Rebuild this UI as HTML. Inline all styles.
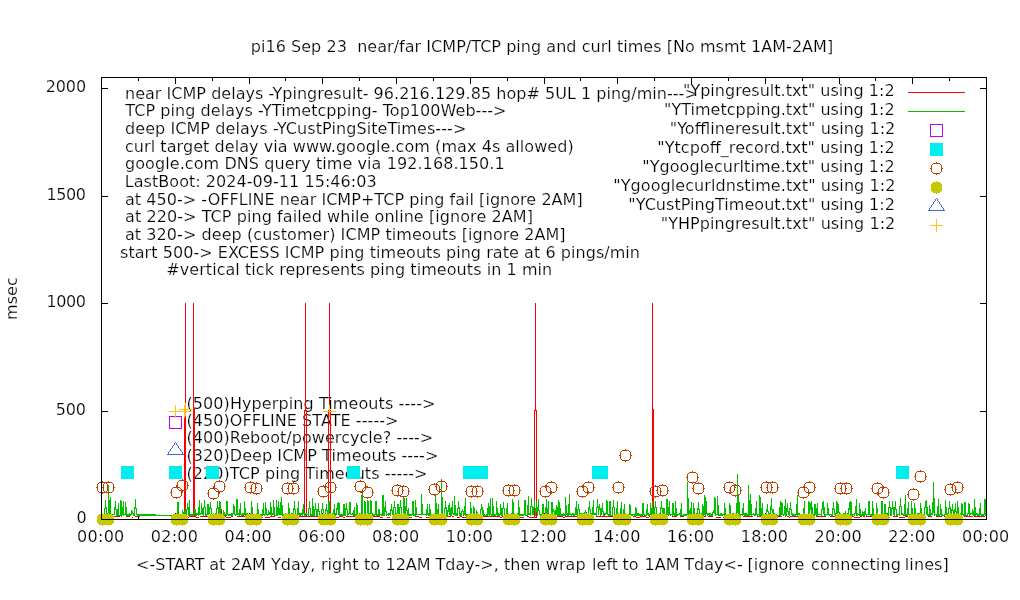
<!DOCTYPE html>
<html lang="en"><head><meta charset="utf-8"><title>pi16 Sep 23 near/far ICMP/TCP ping and curl times</title>
<style>html,body{margin:0;padding:0;background:#fff;overflow:hidden}svg{display:block;will-change:transform}text{font-family:"DejaVu Sans","Liberation Sans",sans-serif;font-size:16px;fill:#000;stroke:#fff;stroke-width:.2px}</style></head><body>
<svg width="1020" height="600" viewBox="0 0 1020 600">
<rect width="1020" height="600" fill="#fff"/>
<text x="250.8" y="52" textLength="582.4" lengthAdjust="spacing" xml:space="preserve">pi16 Sep 23  near/far ICMP/TCP ping and curl times [No msmt 1AM-2AM]</text>
<text transform="translate(17.3,320.0) rotate(-90)" textLength="42.8" lengthAdjust="spacing">msec</text>
<text x="76.5" y="523" textLength="11.1" lengthAdjust="spacing" xml:space="preserve">0</text>
<text x="55.8" y="415" textLength="30.1" lengthAdjust="spacing" xml:space="preserve">500</text>
<text x="46.5" y="307" textLength="39.4" lengthAdjust="spacing" xml:space="preserve">1000</text>
<text x="46.5" y="200" textLength="39.5" lengthAdjust="spacing" xml:space="preserve">1500</text>
<text x="45.7" y="92" textLength="40.4" lengthAdjust="spacing" xml:space="preserve">2000</text>
<text x="77.1" y="541.8" textLength="47.2" lengthAdjust="spacing" xml:space="preserve">00:00</text>
<text x="150.8" y="541.8" textLength="47.2" lengthAdjust="spacing" xml:space="preserve">02:00</text>
<text x="224.6" y="541.8" textLength="47.2" lengthAdjust="spacing" xml:space="preserve">04:00</text>
<text x="298.3" y="541.8" textLength="47.2" lengthAdjust="spacing" xml:space="preserve">06:00</text>
<text x="372.1" y="541.8" textLength="47.2" lengthAdjust="spacing" xml:space="preserve">08:00</text>
<text x="445.8" y="541.8" textLength="47.2" lengthAdjust="spacing" xml:space="preserve">10:00</text>
<text x="519.6" y="541.8" textLength="47.2" lengthAdjust="spacing" xml:space="preserve">12:00</text>
<text x="593.3" y="541.8" textLength="47.2" lengthAdjust="spacing" xml:space="preserve">14:00</text>
<text x="667.1" y="541.8" textLength="47.2" lengthAdjust="spacing" xml:space="preserve">16:00</text>
<text x="740.8" y="541.8" textLength="47.2" lengthAdjust="spacing" xml:space="preserve">18:00</text>
<text x="814.6" y="541.8" textLength="47.2" lengthAdjust="spacing" xml:space="preserve">20:00</text>
<text x="888.3" y="541.8" textLength="47.2" lengthAdjust="spacing" xml:space="preserve">22:00</text>
<text x="962.1" y="541.8" textLength="47.2" lengthAdjust="spacing" xml:space="preserve">00:00</text>
<text x="125.0" y="98.5" textLength="572.8" lengthAdjust="spacing" xml:space="preserve">near ICMP delays -Ypingresult- 96.216.129.85 hop# 5UL 1 ping/min---&gt;</text>
<text x="125.3" y="116" textLength="381.2" lengthAdjust="spacing" xml:space="preserve">TCP ping delays -YTimetcpping- Top100Web---&gt;</text>
<text x="125.0" y="133.5" textLength="341.3" lengthAdjust="spacing" xml:space="preserve">deep ICMP delays -YCustPingSiteTimes---&gt;</text>
<text x="125.0" y="151.7" textLength="448.7" lengthAdjust="spacing" xml:space="preserve">curl target delay via www.google.com (max 4s allowed)</text>
<text x="125.0" y="169.3" textLength="379.7" lengthAdjust="spacing" xml:space="preserve">google.com DNS query time via 192.168.150.1</text>
<text x="124.8" y="187" textLength="251.8" lengthAdjust="spacing" xml:space="preserve">LastBoot: 2024-09-11 15:46:03</text>
<text x="125.0" y="204.5" textLength="457.7" lengthAdjust="spacing" xml:space="preserve">at 450-&gt; -OFFLINE near ICMP+TCP ping fail [ignore 2AM]</text>
<text x="125.0" y="222" textLength="407.9" lengthAdjust="spacing" xml:space="preserve">at 220-&gt; TCP ping failed while online [ignore 2AM]</text>
<text x="125.0" y="240" textLength="440.6" lengthAdjust="spacing" xml:space="preserve">at 320-&gt; deep (customer) ICMP timeouts [ignore 2AM]</text>
<text x="120.0" y="257.5" textLength="520.0" lengthAdjust="spacing" xml:space="preserve">start 500-&gt; EXCESS ICMP ping timeouts ping rate at 6 pings/min</text>
<text x="166.3" y="275" textLength="385.9" lengthAdjust="spacing" xml:space="preserve">#vertical tick represents ping timeouts in 1 min</text>
<text x="186.4" y="408.5" textLength="249.1" lengthAdjust="spacing" xml:space="preserve">(500)Hyperping Timeouts ----&gt;</text>
<text x="186.4" y="426" textLength="212.1" lengthAdjust="spacing" xml:space="preserve">(450)OFFLINE STATE -----&gt;</text>
<text x="186.4" y="443" textLength="246.8" lengthAdjust="spacing" xml:space="preserve">(400)Reboot/powercycle? ----&gt;</text>
<text x="186.4" y="461" textLength="251.9" lengthAdjust="spacing" xml:space="preserve">(320)Deep ICMP Timeouts ----&gt;</text>
<text x="186.4" y="479" textLength="241.1" lengthAdjust="spacing" xml:space="preserve">(220)TCP ping Timeouts -----&gt;</text>
<text y="570"><tspan x="136.1">&lt;-START</tspan> <tspan x="209.2">at</tspan> <tspan x="230.9">2AM</tspan> <tspan x="271.1">Yday,</tspan> <tspan x="320.9">right</tspan> <tspan x="364.0">to</tspan> <tspan x="385.5">12AM</tspan> <tspan x="435.6">Tday-&gt;,</tspan> <tspan x="504.1">then</tspan> <tspan x="545.8" textLength="39.8" lengthAdjust="spacing">wrap</tspan> <tspan x="592.1">left</tspan> <tspan x="622.5">to</tspan> <tspan x="644.5">1AM</tspan> <tspan x="684.3">Tday&lt;-</tspan> <tspan x="747.6">[ignore</tspan> <tspan x="811.1" textLength="89.7" lengthAdjust="spacing">connecting</tspan> <tspan x="904.8" textLength="44.0" lengthAdjust="spacing">lines]</tspan></text>
<g shape-rendering="crispEdges">
<rect x="101" y="411" width="7" height="1" fill="#000"/>
<rect x="980" y="411" width="7" height="1" fill="#000"/>
<rect x="101" y="303" width="7" height="1" fill="#000"/>
<rect x="980" y="303" width="7" height="1" fill="#000"/>
<rect x="101" y="196" width="7" height="1" fill="#000"/>
<rect x="980" y="196" width="7" height="1" fill="#000"/>
<rect x="101" y="88" width="7" height="1" fill="#000"/>
<rect x="980" y="88" width="7" height="1" fill="#000"/>
<rect x="138" y="516" width="1" height="4" fill="#000"/>
<rect x="138" y="77" width="1" height="4" fill="#000"/>
<rect x="175" y="513" width="1" height="7" fill="#000"/>
<rect x="175" y="77" width="1" height="7" fill="#000"/>
<rect x="212" y="516" width="1" height="4" fill="#000"/>
<rect x="212" y="77" width="1" height="4" fill="#000"/>
<rect x="249" y="513" width="1" height="7" fill="#000"/>
<rect x="249" y="77" width="1" height="7" fill="#000"/>
<rect x="285" y="516" width="1" height="4" fill="#000"/>
<rect x="285" y="77" width="1" height="4" fill="#000"/>
<rect x="322" y="513" width="1" height="7" fill="#000"/>
<rect x="322" y="77" width="1" height="7" fill="#000"/>
<rect x="359" y="516" width="1" height="4" fill="#000"/>
<rect x="359" y="77" width="1" height="4" fill="#000"/>
<rect x="396" y="513" width="1" height="7" fill="#000"/>
<rect x="396" y="77" width="1" height="7" fill="#000"/>
<rect x="433" y="516" width="1" height="4" fill="#000"/>
<rect x="433" y="77" width="1" height="4" fill="#000"/>
<rect x="470" y="513" width="1" height="7" fill="#000"/>
<rect x="470" y="77" width="1" height="7" fill="#000"/>
<rect x="507" y="516" width="1" height="4" fill="#000"/>
<rect x="507" y="77" width="1" height="4" fill="#000"/>
<rect x="544" y="513" width="1" height="7" fill="#000"/>
<rect x="544" y="77" width="1" height="7" fill="#000"/>
<rect x="580" y="516" width="1" height="4" fill="#000"/>
<rect x="580" y="77" width="1" height="4" fill="#000"/>
<rect x="617" y="513" width="1" height="7" fill="#000"/>
<rect x="617" y="77" width="1" height="7" fill="#000"/>
<rect x="654" y="516" width="1" height="4" fill="#000"/>
<rect x="654" y="77" width="1" height="4" fill="#000"/>
<rect x="691" y="513" width="1" height="7" fill="#000"/>
<rect x="691" y="77" width="1" height="7" fill="#000"/>
<rect x="728" y="516" width="1" height="4" fill="#000"/>
<rect x="728" y="77" width="1" height="4" fill="#000"/>
<rect x="765" y="513" width="1" height="7" fill="#000"/>
<rect x="765" y="77" width="1" height="7" fill="#000"/>
<rect x="802" y="516" width="1" height="4" fill="#000"/>
<rect x="802" y="77" width="1" height="4" fill="#000"/>
<rect x="839" y="513" width="1" height="7" fill="#000"/>
<rect x="839" y="77" width="1" height="7" fill="#000"/>
<rect x="875" y="516" width="1" height="4" fill="#000"/>
<rect x="875" y="77" width="1" height="4" fill="#000"/>
<rect x="912" y="513" width="1" height="7" fill="#000"/>
<rect x="912" y="77" width="1" height="7" fill="#000"/>
<rect x="949" y="516" width="1" height="4" fill="#000"/>
<rect x="949" y="77" width="1" height="4" fill="#000"/>
<rect x="103" y="517" width="6" height="1" fill="#FF0000"/>
<rect x="109" y="516" width="6" height="1" fill="#FF0000"/>
<rect x="115" y="516" width="3" height="1" fill="#FF0000"/>
<rect x="118" y="516" width="2" height="1" fill="#FF0000"/>
<rect x="121" y="516" width="1" height="1" fill="#FF0000"/>
<rect x="126" y="516" width="2" height="1" fill="#FF0000"/>
<rect x="128" y="516" width="2" height="1" fill="#FF0000"/>
<rect x="132" y="517" width="1" height="1" fill="#FF0000"/>
<rect x="135" y="516" width="3" height="1" fill="#FF0000"/>
<rect x="138" y="516" width="2" height="1" fill="#FF0000"/>
<rect x="175" y="516" width="3" height="1" fill="#FF0000"/>
<rect x="181" y="516" width="1" height="1" fill="#FF0000"/>
<rect x="182" y="516" width="5" height="1" fill="#FF0000"/>
<rect x="188" y="517" width="1" height="1" fill="#FF0000"/>
<rect x="189" y="514" width="1" height="3" fill="#FF0000"/>
<rect x="190" y="516" width="1" height="1" fill="#FF0000"/>
<rect x="191" y="516" width="5" height="1" fill="#FF0000"/>
<rect x="196" y="517" width="3" height="1" fill="#FF0000"/>
<rect x="200" y="516" width="3" height="1" fill="#FF0000"/>
<rect x="203" y="516" width="2" height="1" fill="#FF0000"/>
<rect x="205" y="516" width="1" height="1" fill="#FF0000"/>
<rect x="206" y="516" width="2" height="1" fill="#FF0000"/>
<rect x="210" y="516" width="2" height="1" fill="#FF0000"/>
<rect x="216" y="517" width="5" height="1" fill="#FF0000"/>
<rect x="221" y="509" width="1" height="8" fill="#FF0000"/>
<rect x="222" y="517" width="3" height="1" fill="#FF0000"/>
<rect x="225" y="514" width="1" height="3" fill="#FF0000"/>
<rect x="226" y="517" width="5" height="1" fill="#FF0000"/>
<rect x="231" y="516" width="2" height="1" fill="#FF0000"/>
<rect x="237" y="516" width="3" height="1" fill="#FF0000"/>
<rect x="240" y="516" width="3" height="1" fill="#FF0000"/>
<rect x="243" y="514" width="1" height="3" fill="#FF0000"/>
<rect x="244" y="516" width="3" height="1" fill="#FF0000"/>
<rect x="251" y="517" width="2" height="1" fill="#FF0000"/>
<rect x="253" y="517" width="2" height="1" fill="#FF0000"/>
<rect x="257" y="517" width="3" height="1" fill="#FF0000"/>
<rect x="260" y="517" width="3" height="1" fill="#FF0000"/>
<rect x="265" y="517" width="5" height="1" fill="#FF0000"/>
<rect x="270" y="516" width="5" height="1" fill="#FF0000"/>
<rect x="278" y="517" width="3" height="1" fill="#FF0000"/>
<rect x="285" y="516" width="6" height="1" fill="#FF0000"/>
<rect x="292" y="516" width="2" height="1" fill="#FF0000"/>
<rect x="294" y="516" width="2" height="1" fill="#FF0000"/>
<rect x="296" y="517" width="3" height="1" fill="#FF0000"/>
<rect x="299" y="513" width="1" height="4" fill="#FF0000"/>
<rect x="300" y="516" width="6" height="1" fill="#FF0000"/>
<rect x="306" y="514" width="1" height="3" fill="#FF0000"/>
<rect x="307" y="516" width="4" height="1" fill="#FF0000"/>
<rect x="311" y="516" width="2" height="1" fill="#FF0000"/>
<rect x="313" y="516" width="4" height="1" fill="#FF0000"/>
<rect x="317" y="516" width="2" height="1" fill="#FF0000"/>
<rect x="319" y="517" width="6" height="1" fill="#FF0000"/>
<rect x="325" y="516" width="1" height="1" fill="#FF0000"/>
<rect x="326" y="516" width="6" height="1" fill="#FF0000"/>
<rect x="334" y="516" width="2" height="1" fill="#FF0000"/>
<rect x="336" y="517" width="1" height="1" fill="#FF0000"/>
<rect x="337" y="517" width="2" height="1" fill="#FF0000"/>
<rect x="339" y="516" width="4" height="1" fill="#FF0000"/>
<rect x="343" y="517" width="2" height="1" fill="#FF0000"/>
<rect x="346" y="516" width="6" height="1" fill="#FF0000"/>
<rect x="352" y="516" width="5" height="1" fill="#FF0000"/>
<rect x="357" y="515" width="1" height="2" fill="#FF0000"/>
<rect x="358" y="516" width="2" height="1" fill="#FF0000"/>
<rect x="363" y="517" width="5" height="1" fill="#FF0000"/>
<rect x="372" y="516" width="6" height="1" fill="#FF0000"/>
<rect x="378" y="516" width="1" height="1" fill="#FF0000"/>
<rect x="379" y="515" width="1" height="2" fill="#FF0000"/>
<rect x="380" y="517" width="3" height="1" fill="#FF0000"/>
<rect x="387" y="517" width="3" height="1" fill="#FF0000"/>
<rect x="392" y="516" width="3" height="1" fill="#FF0000"/>
<rect x="395" y="516" width="4" height="1" fill="#FF0000"/>
<rect x="401" y="516" width="4" height="1" fill="#FF0000"/>
<rect x="409" y="517" width="3" height="1" fill="#FF0000"/>
<rect x="415" y="516" width="3" height="1" fill="#FF0000"/>
<rect x="418" y="516" width="1" height="1" fill="#FF0000"/>
<rect x="419" y="517" width="3" height="1" fill="#FF0000"/>
<rect x="426" y="517" width="3" height="1" fill="#FF0000"/>
<rect x="429" y="516" width="5" height="1" fill="#FF0000"/>
<rect x="434" y="516" width="4" height="1" fill="#FF0000"/>
<rect x="438" y="516" width="6" height="1" fill="#FF0000"/>
<rect x="444" y="517" width="3" height="1" fill="#FF0000"/>
<rect x="447" y="511" width="1" height="6" fill="#FF0000"/>
<rect x="448" y="516" width="3" height="1" fill="#FF0000"/>
<rect x="452" y="516" width="2" height="1" fill="#FF0000"/>
<rect x="457" y="517" width="3" height="1" fill="#FF0000"/>
<rect x="460" y="516" width="2" height="1" fill="#FF0000"/>
<rect x="462" y="517" width="4" height="1" fill="#FF0000"/>
<rect x="466" y="517" width="3" height="1" fill="#FF0000"/>
<rect x="470" y="516" width="6" height="1" fill="#FF0000"/>
<rect x="476" y="514" width="1" height="3" fill="#FF0000"/>
<rect x="477" y="517" width="3" height="1" fill="#FF0000"/>
<rect x="480" y="516" width="2" height="1" fill="#FF0000"/>
<rect x="482" y="516" width="3" height="1" fill="#FF0000"/>
<rect x="485" y="516" width="5" height="1" fill="#FF0000"/>
<rect x="490" y="516" width="1" height="1" fill="#FF0000"/>
<rect x="491" y="516" width="4" height="1" fill="#FF0000"/>
<rect x="495" y="516" width="3" height="1" fill="#FF0000"/>
<rect x="498" y="516" width="2" height="1" fill="#FF0000"/>
<rect x="500" y="517" width="2" height="1" fill="#FF0000"/>
<rect x="502" y="516" width="4" height="1" fill="#FF0000"/>
<rect x="506" y="516" width="1" height="1" fill="#FF0000"/>
<rect x="507" y="513" width="1" height="4" fill="#FF0000"/>
<rect x="508" y="516" width="4" height="1" fill="#FF0000"/>
<rect x="512" y="517" width="6" height="1" fill="#FF0000"/>
<rect x="519" y="517" width="5" height="1" fill="#FF0000"/>
<rect x="527" y="516" width="2" height="1" fill="#FF0000"/>
<rect x="529" y="517" width="6" height="1" fill="#FF0000"/>
<rect x="535" y="517" width="2" height="1" fill="#FF0000"/>
<rect x="540" y="516" width="2" height="1" fill="#FF0000"/>
<rect x="542" y="516" width="3" height="1" fill="#FF0000"/>
<rect x="547" y="517" width="3" height="1" fill="#FF0000"/>
<rect x="550" y="516" width="3" height="1" fill="#FF0000"/>
<rect x="554" y="516" width="1" height="1" fill="#FF0000"/>
<rect x="555" y="515" width="1" height="2" fill="#FF0000"/>
<rect x="556" y="516" width="5" height="1" fill="#FF0000"/>
<rect x="561" y="516" width="2" height="1" fill="#FF0000"/>
<rect x="563" y="517" width="2" height="1" fill="#FF0000"/>
<rect x="565" y="516" width="5" height="1" fill="#FF0000"/>
<rect x="570" y="516" width="2" height="1" fill="#FF0000"/>
<rect x="572" y="516" width="6" height="1" fill="#FF0000"/>
<rect x="582" y="517" width="1" height="1" fill="#FF0000"/>
<rect x="584" y="516" width="1" height="1" fill="#FF0000"/>
<rect x="588" y="517" width="4" height="1" fill="#FF0000"/>
<rect x="596" y="516" width="2" height="1" fill="#FF0000"/>
<rect x="598" y="516" width="3" height="1" fill="#FF0000"/>
<rect x="601" y="516" width="5" height="1" fill="#FF0000"/>
<rect x="606" y="516" width="2" height="1" fill="#FF0000"/>
<rect x="608" y="516" width="3" height="1" fill="#FF0000"/>
<rect x="611" y="516" width="2" height="1" fill="#FF0000"/>
<rect x="613" y="517" width="4" height="1" fill="#FF0000"/>
<rect x="620" y="516" width="3" height="1" fill="#FF0000"/>
<rect x="623" y="516" width="2" height="1" fill="#FF0000"/>
<rect x="626" y="516" width="3" height="1" fill="#FF0000"/>
<rect x="633" y="516" width="2" height="1" fill="#FF0000"/>
<rect x="635" y="516" width="1" height="1" fill="#FF0000"/>
<rect x="636" y="517" width="4" height="1" fill="#FF0000"/>
<rect x="640" y="516" width="2" height="1" fill="#FF0000"/>
<rect x="642" y="516" width="4" height="1" fill="#FF0000"/>
<rect x="646" y="517" width="3" height="1" fill="#FF0000"/>
<rect x="649" y="516" width="1" height="1" fill="#FF0000"/>
<rect x="650" y="516" width="6" height="1" fill="#FF0000"/>
<rect x="658" y="517" width="2" height="1" fill="#FF0000"/>
<rect x="660" y="516" width="2" height="1" fill="#FF0000"/>
<rect x="666" y="517" width="2" height="1" fill="#FF0000"/>
<rect x="672" y="516" width="5" height="1" fill="#FF0000"/>
<rect x="680" y="516" width="1" height="1" fill="#FF0000"/>
<rect x="681" y="514" width="1" height="3" fill="#FF0000"/>
<rect x="682" y="516" width="2" height="1" fill="#FF0000"/>
<rect x="687" y="517" width="5" height="1" fill="#FF0000"/>
<rect x="692" y="516" width="2" height="1" fill="#FF0000"/>
<rect x="694" y="515" width="1" height="2" fill="#FF0000"/>
<rect x="695" y="516" width="5" height="1" fill="#FF0000"/>
<rect x="703" y="516" width="3" height="1" fill="#FF0000"/>
<rect x="708" y="516" width="5" height="1" fill="#FF0000"/>
<rect x="716" y="517" width="5" height="1" fill="#FF0000"/>
<rect x="723" y="517" width="2" height="1" fill="#FF0000"/>
<rect x="726" y="517" width="1" height="1" fill="#FF0000"/>
<rect x="727" y="516" width="1" height="1" fill="#FF0000"/>
<rect x="728" y="516" width="3" height="1" fill="#FF0000"/>
<rect x="731" y="516" width="2" height="1" fill="#FF0000"/>
<rect x="737" y="516" width="3" height="1" fill="#FF0000"/>
<rect x="740" y="516" width="1" height="1" fill="#FF0000"/>
<rect x="743" y="516" width="3" height="1" fill="#FF0000"/>
<rect x="746" y="516" width="3" height="1" fill="#FF0000"/>
<rect x="749" y="514" width="1" height="3" fill="#FF0000"/>
<rect x="750" y="516" width="3" height="1" fill="#FF0000"/>
<rect x="757" y="516" width="2" height="1" fill="#FF0000"/>
<rect x="759" y="516" width="2" height="1" fill="#FF0000"/>
<rect x="761" y="516" width="1" height="1" fill="#FF0000"/>
<rect x="762" y="516" width="5" height="1" fill="#FF0000"/>
<rect x="771" y="516" width="1" height="1" fill="#FF0000"/>
<rect x="772" y="516" width="3" height="1" fill="#FF0000"/>
<rect x="775" y="516" width="4" height="1" fill="#FF0000"/>
<rect x="779" y="516" width="3" height="1" fill="#FF0000"/>
<rect x="785" y="516" width="1" height="1" fill="#FF0000"/>
<rect x="787" y="516" width="2" height="1" fill="#FF0000"/>
<rect x="789" y="517" width="1" height="1" fill="#FF0000"/>
<rect x="790" y="516" width="1" height="1" fill="#FF0000"/>
<rect x="791" y="516" width="4" height="1" fill="#FF0000"/>
<rect x="795" y="516" width="5" height="1" fill="#FF0000"/>
<rect x="802" y="516" width="1" height="1" fill="#FF0000"/>
<rect x="803" y="516" width="6" height="1" fill="#FF0000"/>
<rect x="809" y="516" width="3" height="1" fill="#FF0000"/>
<rect x="816" y="516" width="6" height="1" fill="#FF0000"/>
<rect x="822" y="516" width="4" height="1" fill="#FF0000"/>
<rect x="830" y="516" width="2" height="1" fill="#FF0000"/>
<rect x="832" y="516" width="3" height="1" fill="#FF0000"/>
<rect x="835" y="517" width="4" height="1" fill="#FF0000"/>
<rect x="839" y="517" width="2" height="1" fill="#FF0000"/>
<rect x="841" y="516" width="3" height="1" fill="#FF0000"/>
<rect x="844" y="517" width="3" height="1" fill="#FF0000"/>
<rect x="847" y="516" width="4" height="1" fill="#FF0000"/>
<rect x="851" y="516" width="3" height="1" fill="#FF0000"/>
<rect x="854" y="517" width="3" height="1" fill="#FF0000"/>
<rect x="857" y="517" width="3" height="1" fill="#FF0000"/>
<rect x="860" y="515" width="1" height="2" fill="#FF0000"/>
<rect x="861" y="516" width="1" height="1" fill="#FF0000"/>
<rect x="863" y="516" width="2" height="1" fill="#FF0000"/>
<rect x="866" y="516" width="2" height="1" fill="#FF0000"/>
<rect x="868" y="516" width="4" height="1" fill="#FF0000"/>
<rect x="875" y="516" width="4" height="1" fill="#FF0000"/>
<rect x="880" y="516" width="2" height="1" fill="#FF0000"/>
<rect x="882" y="516" width="3" height="1" fill="#FF0000"/>
<rect x="885" y="517" width="5" height="1" fill="#FF0000"/>
<rect x="893" y="516" width="3" height="1" fill="#FF0000"/>
<rect x="896" y="516" width="2" height="1" fill="#FF0000"/>
<rect x="899" y="517" width="6" height="1" fill="#FF0000"/>
<rect x="905" y="515" width="1" height="2" fill="#FF0000"/>
<rect x="906" y="516" width="5" height="1" fill="#FF0000"/>
<rect x="911" y="516" width="6" height="1" fill="#FF0000"/>
<rect x="917" y="516" width="2" height="1" fill="#FF0000"/>
<rect x="919" y="516" width="2" height="1" fill="#FF0000"/>
<rect x="921" y="516" width="4" height="1" fill="#FF0000"/>
<rect x="928" y="516" width="4" height="1" fill="#FF0000"/>
<rect x="936" y="516" width="3" height="1" fill="#FF0000"/>
<rect x="939" y="516" width="3" height="1" fill="#FF0000"/>
<rect x="944" y="516" width="2" height="1" fill="#FF0000"/>
<rect x="949" y="516" width="5" height="1" fill="#FF0000"/>
<rect x="954" y="517" width="4" height="1" fill="#FF0000"/>
<rect x="958" y="516" width="2" height="1" fill="#FF0000"/>
<rect x="960" y="517" width="3" height="1" fill="#FF0000"/>
<rect x="964" y="516" width="2" height="1" fill="#FF0000"/>
<rect x="966" y="516" width="5" height="1" fill="#FF0000"/>
<rect x="971" y="516" width="2" height="1" fill="#FF0000"/>
<rect x="974" y="516" width="4" height="1" fill="#FF0000"/>
<rect x="978" y="516" width="2" height="1" fill="#FF0000"/>
<rect x="980" y="516" width="5" height="1" fill="#FF0000"/>
<rect x="185" y="303" width="1" height="214" fill="#FF0000"/>
<rect x="184" y="409" width="1" height="108" fill="#FF0000"/>
<rect x="193" y="303" width="1" height="214" fill="#FF0000"/>
<rect x="194" y="409" width="1" height="108" fill="#FF0000"/>
<rect x="304" y="410" width="1" height="107" fill="#FF0000"/>
<rect x="306" y="410" width="1" height="107" fill="#FF0000"/>
<rect x="305" y="303" width="1" height="108" fill="#FF0000"/>
<rect x="328" y="410" width="1" height="107" fill="#FF0000"/>
<rect x="330" y="410" width="1" height="107" fill="#FF0000"/>
<rect x="329" y="303" width="1" height="108" fill="#FF0000"/>
<rect x="534" y="410" width="1" height="107" fill="#FF0000"/>
<rect x="536" y="410" width="1" height="107" fill="#FF0000"/>
<rect x="535" y="303" width="1" height="108" fill="#FF0000"/>
<rect x="652" y="303" width="1" height="214" fill="#FF0000"/>
<rect x="653" y="409" width="1" height="108" fill="#FF0000"/>
<path d="M103 514v2M104 508v8M105 500v9M106 507v9M107 513v3M108 485v29M109 500v16M110 497v19M111 514v2M112 514v1M113 514v1M114 507v8M115 501v9M116 509v7M117 509v7M118 503v13M119 515v1M120 500v16M121 501v15M122 507v8M123 501v15M124 514v1M125 502v13M126 507v9M127 514v2M128 514v2M129 513v3M130 514v2M131 510v5M132 511v3M133 513v3M134 507v9M135 499v10M136 508v7M137 514v2M138 514v2M139 514v2M140 514v2M141 514v2M142 514v2M143 514v2M144 514v2M145 514v2M146 514v2M147 514v2M148 514v2M149 514v2M150 514v2M151 514v2M152 514v2M153 514v2M154 514v2M155 514v2M156 515v1M157 515v1M158 515v1M159 515v1M160 515v1M161 515v1M162 515v1M163 515v1M164 515v1M165 515v1M166 515v1M167 515v1M168 515v1M169 515v1M170 515v1M171 515v1M172 515v1M173 515v1M174 515v1M175 515v1M176 513v3M177 502v12M178 502v14M179 514v2M180 514v2M181 514v2M182 510v5M183 512v3M184 511v4M185 508v8M186 509v7M187 503v7M188 507v9M189 500v15M190 514v2M191 514v2M192 514v2M193 513v3M194 509v5M195 509v7M196 513v3M197 513v2M198 507v9M199 500v15M200 513v2M201 503v11M202 508v7M203 507v9M204 500v8M205 507v9M206 514v2M207 504v11M208 504v11M209 507v7M210 502v7M211 508v8M212 514v2M213 514v2M214 514v2M215 513v2M216 508v8M217 501v8M218 507v8M219 501v15M220 502v13M221 514v2M222 514v2M223 510v5M224 512v4M225 514v1M226 501v15M227 501v14M228 514v2M229 514v2M230 514v2M231 513v3M232 513v3M233 504v10M234 506v9M235 514v2M236 499v16M237 499v16M238 513v2M239 509v7M240 503v12M241 514v2M242 513v3M243 513v2M244 501v14M245 508v8M246 513v2M247 513v3M248 514v2M249 514v1M250 514v2M251 501v15M252 507v8M253 514v2M254 514v2M255 514v2M256 514v2M257 503v12M258 509v7M259 514v1M260 514v2M261 514v2M262 509v7M263 503v12M264 514v2M265 502v13M266 508v7M267 514v2M268 510v5M269 512v3M270 502v13M271 507v9M272 513v2M273 500v15M274 507v9M275 515v1M276 500v16M277 507v9M278 501v14M279 508v7M280 502v13M281 497v18M282 505v11M283 514v2M284 514v2M285 513v3M286 515v1M287 513v3M288 503v12M289 508v8M290 514v1M291 513v3M292 513v2M293 508v8M294 501v9M295 509v7M296 514v2M297 508v8M298 501v14M299 514v2M300 513v3M301 513v2M302 509v7M303 504v10M304 513v3M305 513v3M306 513v2M307 514v1M308 508v8M309 501v8M310 508v8M311 514v2M312 498v18M313 506v10M314 509v7M315 503v7M316 509v7M317 509v7M318 503v9M319 511v4M320 514v2M321 509v7M322 503v7M323 509v7M324 514v2M325 509v6M326 504v7M327 510v5M328 501v14M329 501v14M330 514v2M331 514v2M332 513v3M333 509v6M334 504v11M335 513v3M336 508v7M337 503v7M338 502v13M339 503v13M340 514v2M341 514v2M342 514v2M343 504v12M344 504v12M345 508v8M346 503v7M347 509v7M348 513v2M349 502v12M350 502v13M351 514v1M352 513v2M353 510v6M354 507v9M355 514v2M356 503v13M357 505v11M358 514v2M359 513v3M360 513v3M361 495v21M362 495v21M363 514v2M364 501v14M365 502v14M366 514v1M367 500v15M368 501v14M369 513v3M370 500v16M371 501v13M372 513v3M373 514v2M374 514v2M375 501v14M376 501v15M377 514v2M378 509v7M379 509v6M380 514v1M381 514v2M382 495v21M383 495v21M384 507v9M385 501v11M386 511v5M387 514v1M388 513v3M389 513v2M390 509v7M391 504v7M392 510v5M393 507v8M394 501v7M395 507v9M396 513v3M397 504v11M398 504v11M399 507v8M400 500v8M401 507v9M402 514v1M403 498v18M404 498v18M405 506v10M406 498v13M407 510v6M408 508v8M409 514v2M410 514v2M411 514v2M412 501v14M413 501v15M414 514v2M415 500v16M416 507v8M417 514v1M418 514v1M419 514v1M420 514v1M421 494v21M422 504v11M423 514v1M424 514v1M425 514v1M426 509v7M427 504v11M428 513v3M429 504v12M430 509v7M431 514v2M432 514v2M433 514v1M434 514v1M435 494v21M436 503v12M437 509v7M438 504v11M439 514v2M440 514v2M441 479v36M442 497v19M443 514v1M444 508v8M445 501v8M446 507v9M447 510v6M448 505v7M449 503v12M450 508v8M451 507v9M452 501v13M453 513v2M454 496v19M455 505v11M456 513v3M457 508v8M458 501v8M459 507v9M460 513v3M461 511v5M462 509v3M463 511v5M464 506v9M465 498v18M466 514v2M467 514v1M468 514v2M469 514v1M470 502v14M471 508v8M472 514v2M473 506v9M474 508v8M475 514v1M476 510v5M477 512v3M478 514v2M479 514v1M480 509v7M481 504v6M482 507v8M483 510v6M484 514v2M485 515v1M486 514v2M487 508v8M488 503v12M489 506v10M490 498v17M491 514v2M492 498v18M493 506v10M494 514v2M495 514v2M496 501v14M497 508v8M498 513v3M499 514v2M500 504v11M501 508v8M502 508v8M503 502v7M504 508v8M505 514v2M506 508v8M507 503v13M508 513v2M509 514v2M510 514v2M511 513v3M512 499v15M513 502v13M514 514v2M515 514v1M516 514v2M517 513v3M518 500v16M519 507v9M520 514v2M521 514v2M522 514v2M523 514v2M524 500v15M525 500v16M526 515v1M527 505v11M528 496v19M529 513v2M530 506v10M531 498v9M532 506v9M533 507v8M534 501v8M535 508v8M536 502v10M537 507v9M538 499v12M539 510v5M540 514v2M541 514v2M542 504v11M543 504v11M544 514v2M545 507v9M546 499v17M547 508v8M548 501v15M549 514v2M550 514v2M551 502v14M552 502v13M553 509v3M554 511v4M555 510v6M556 505v10M557 507v9M558 500v16M559 502v14M560 508v8M561 514v2M562 514v2M563 513v3M564 514v2M565 497v19M566 505v10M567 513v3M568 504v12M569 494v21M570 513v2M571 514v2M572 513v2M573 513v3M574 514v2M575 507v8M576 501v14M577 509v7M578 504v6M579 509v7M580 513v3M581 513v1M582 513v3M583 513v3M584 512v4M585 510v3M586 512v3M587 514v2M588 507v8M589 501v9M590 509v7M591 513v3M592 507v9M593 500v15M594 513v2M595 513v2M596 507v9M597 499v9M598 506v9M599 504v6M600 508v8M601 508v7M602 503v9M603 511v5M604 513v3M605 513v2M606 500v14M607 501v14M608 514v2M609 501v15M610 501v15M611 515v1M612 507v9M613 500v8M614 507v9M615 514v2M616 508v8M617 501v14M618 514v2M619 514v2M620 508v8M621 502v14M622 514v1M623 509v7M624 504v12M625 514v2M626 514v1M627 514v1M628 514v2M629 504v12M630 505v10M631 514v2M632 514v2M633 514v1M634 514v2M635 507v9M636 508v8M637 513v3M638 513v3M639 514v2M640 514v2M641 514v2M642 503v13M643 503v12M644 514v2M645 515v1M646 509v7M647 504v11M648 513v3M649 514v2M650 503v12M651 508v7M652 501v15M653 508v8M654 507v8M655 501v7M656 507v9M657 514v2M658 514v2M659 513v3M660 507v8M661 501v8M662 508v8M663 508v8M664 508v7M665 514v2M666 499v17M667 499v16M668 507v9M669 501v14M670 514v2M671 514v1M672 503v13M673 503v12M674 513v3M675 501v15M676 508v8M677 514v2M678 514v1M679 513v2M680 509v7M681 503v13M682 515v1M683 514v2M684 514v2M685 514v2M686 514v2M687 482v33M688 498v18M689 510v6M690 508v8M691 502v13M692 513v2M693 503v12M694 508v7M695 514v2M696 513v3M697 508v8M698 502v8M699 509v6M700 514v2M701 513v3M702 504v12M703 506v10M704 495v20M705 497v19M706 501v13M707 513v3M708 513v2M709 513v3M710 513v3M711 514v2M712 512v4M713 510v3M714 497v17M715 498v18M716 514v1M717 496v19M718 505v11M719 514v2M720 513v3M721 513v3M722 514v2M723 514v1M724 503v13M725 508v8M726 515v1M727 514v2M728 514v1M729 503v12M730 505v10M731 514v2M732 513v3M733 513v3M734 514v2M735 514v1M736 503v12M737 474v39M738 494v22M739 502v13M740 514v2M741 514v1M742 508v8M743 503v12M744 513v3M745 513v3M746 513v3M747 514v2M748 485v31M749 500v16M750 494v21M751 504v12M752 514v1M753 513v2M754 514v2M755 508v8M756 501v14M757 514v2M758 514v1M759 495v21M760 497v19M761 508v8M762 503v13M763 515v1M764 514v2M765 514v2M766 509v7M767 504v8M768 511v5M769 513v1M770 506v10M771 498v12M772 509v7M773 509v5M774 513v2M775 514v2M776 514v2M777 515v1M778 515v1M779 507v9M780 501v15M781 502v13M782 503v12M783 514v2M784 506v9M785 499v17M786 508v8M787 503v9M788 511v4M789 508v8M790 502v8M791 509v6M792 513v3M793 514v2M794 514v2M795 514v2M796 504v11M797 495v21M798 513v2M799 513v2M800 514v2M801 514v2M802 514v2M803 508v8M804 501v15M805 514v1M806 514v2M807 515v1M808 501v15M809 502v13M810 503v7M811 501v14M812 507v8M813 514v2M814 504v12M815 504v11M816 508v8M817 503v13M818 514v1M819 514v1M820 514v1M821 509v7M822 502v8M823 501v13M824 507v9M825 514v2M826 514v1M827 503v12M828 508v7M829 514v2M830 514v1M831 514v2M832 508v8M833 502v8M834 509v6M835 513v3M836 501v13M837 502v13M838 504v9M839 512v4M840 513v2M841 514v2M842 514v2M843 513v2M844 513v3M845 511v5M846 513v3M847 513v2M848 508v8M849 502v8M850 501v15M851 502v14M852 514v2M853 514v1M854 513v3M855 506v8M856 499v17M857 513v3M858 514v1M859 503v13M860 509v7M861 514v2M862 511v5M863 512v4M864 511v5M865 508v7M866 514v2M867 514v1M868 501v14M869 501v14M870 514v2M871 514v2M872 501v15M873 508v8M874 514v2M875 515v1M876 503v13M877 508v7M878 514v1M879 514v2M880 514v2M881 501v15M882 501v14M883 514v2M884 504v11M885 504v11M886 513v3M887 513v2M888 507v9M889 501v7M890 507v9M891 508v8M892 501v8M893 507v8M894 507v9M895 501v9M896 509v7M897 514v2M898 514v1M899 506v10M900 498v9M901 506v9M902 513v2M903 514v2M904 504v12M905 495v20M906 514v2M907 508v8M908 502v13M909 514v2M910 514v2M911 501v14M912 508v8M913 514v2M914 503v13M915 508v7M916 514v1M917 513v3M918 513v3M919 513v3M920 503v12M921 508v7M922 514v2M923 515v1M924 507v9M925 501v7M926 500v15M927 507v9M928 514v2M929 505v11M930 509v7M931 513v2M932 502v13M933 482v31M934 498v18M935 514v1M936 514v2M937 506v10M938 499v17M939 514v2M940 504v11M941 509v7M942 514v2M943 515v1M944 514v2M945 500v15M946 507v9M947 513v2M948 508v8M949 501v8M950 507v8M951 509v7M952 504v7M953 510v6M954 509v7M955 503v9M956 511v5M957 501v14M958 507v8M959 514v2M960 513v2M961 503v13M962 504v11M963 514v2M964 502v14M965 502v14M966 515v1M967 513v3M968 503v11M969 504v12M970 513v2M971 513v1M972 509v6M973 511v5M974 499v17M975 507v9M976 513v2M977 513v3M978 514v2M979 508v8M980 503v12M981 514v2M982 514v2M983 514v2M984 499v16M985 499v17" stroke="#00C000" stroke-width="1" fill="none" transform="translate(.5,0)"/>
<rect x="169.5" y="416.5" width="12" height="12" fill="none" stroke="#C000FF" stroke-width="1"/>
<rect x="121" y="466" width="13" height="13" fill="#00EEEE"/>
<rect x="169" y="466" width="13" height="13" fill="#00EEEE"/>
<rect x="206" y="466" width="13" height="13" fill="#00EEEE"/>
<rect x="347" y="466" width="13" height="13" fill="#00EEEE"/>
<rect x="463" y="466" width="13" height="13" fill="#00EEEE"/>
<rect x="475" y="466" width="13" height="13" fill="#00EEEE"/>
<rect x="592" y="466" width="13" height="13" fill="#00EEEE"/>
<rect x="595" y="466" width="13" height="13" fill="#00EEEE"/>
<rect x="896" y="466" width="13" height="13" fill="#00EEEE"/>
<path d="M99 482h7v1h-7zM99 492h7v1h-7zM97 484h1v7h-1zM107 484h1v7h-1zM98 483h1v1h-1zM106 483h1v1h-1zM98 491h1v1h-1zM106 491h1v1h-1zM102 481h1v1h-1zM102 493h1v1h-1zM96 487h1v1h-1zM108 487h1v1h-1zM105 482h7v1h-7zM105 492h7v1h-7zM103 484h1v7h-1zM113 484h1v7h-1zM104 483h1v1h-1zM112 483h1v1h-1zM104 491h1v1h-1zM112 491h1v1h-1zM108 481h1v1h-1zM108 493h1v1h-1zM102 487h1v1h-1zM114 487h1v1h-1zM173 487h7v1h-7zM173 497h7v1h-7zM171 489h1v7h-1zM181 489h1v7h-1zM172 488h1v1h-1zM180 488h1v1h-1zM172 496h1v1h-1zM180 496h1v1h-1zM176 486h1v1h-1zM176 498h1v1h-1zM170 492h1v1h-1zM182 492h1v1h-1zM179 480h7v1h-7zM179 490h7v1h-7zM177 482h1v7h-1zM187 482h1v7h-1zM178 481h1v1h-1zM186 481h1v1h-1zM178 489h1v1h-1zM186 489h1v1h-1zM182 479h1v1h-1zM182 491h1v1h-1zM176 485h1v1h-1zM188 485h1v1h-1zM210 488h7v1h-7zM210 498h7v1h-7zM208 490h1v7h-1zM218 490h1v7h-1zM209 489h1v1h-1zM217 489h1v1h-1zM209 497h1v1h-1zM217 497h1v1h-1zM213 487h1v1h-1zM213 499h1v1h-1zM207 493h1v1h-1zM219 493h1v1h-1zM216 481h7v1h-7zM216 491h7v1h-7zM214 483h1v7h-1zM224 483h1v7h-1zM215 482h1v1h-1zM223 482h1v1h-1zM215 490h1v1h-1zM223 490h1v1h-1zM219 480h1v1h-1zM219 492h1v1h-1zM213 486h1v1h-1zM225 486h1v1h-1zM247 482h7v1h-7zM247 492h7v1h-7zM245 484h1v7h-1zM255 484h1v7h-1zM246 483h1v1h-1zM254 483h1v1h-1zM246 491h1v1h-1zM254 491h1v1h-1zM250 481h1v1h-1zM250 493h1v1h-1zM244 487h1v1h-1zM256 487h1v1h-1zM253 483h7v1h-7zM253 493h7v1h-7zM251 485h1v7h-1zM261 485h1v7h-1zM252 484h1v1h-1zM260 484h1v1h-1zM252 492h1v1h-1zM260 492h1v1h-1zM256 482h1v1h-1zM256 494h1v1h-1zM250 488h1v1h-1zM262 488h1v1h-1zM284 483h7v1h-7zM284 493h7v1h-7zM282 485h1v7h-1zM292 485h1v7h-1zM283 484h1v1h-1zM291 484h1v1h-1zM283 492h1v1h-1zM291 492h1v1h-1zM287 482h1v1h-1zM287 494h1v1h-1zM281 488h1v1h-1zM293 488h1v1h-1zM290 483h7v1h-7zM290 493h7v1h-7zM288 485h1v7h-1zM298 485h1v7h-1zM289 484h1v1h-1zM297 484h1v1h-1zM289 492h1v1h-1zM297 492h1v1h-1zM293 482h1v1h-1zM293 494h1v1h-1zM287 488h1v1h-1zM299 488h1v1h-1zM320 486h7v1h-7zM320 496h7v1h-7zM318 488h1v7h-1zM328 488h1v7h-1zM319 487h1v1h-1zM327 487h1v1h-1zM319 495h1v1h-1zM327 495h1v1h-1zM323 485h1v1h-1zM323 497h1v1h-1zM317 491h1v1h-1zM329 491h1v1h-1zM327 482h7v1h-7zM327 492h7v1h-7zM325 484h1v7h-1zM335 484h1v7h-1zM326 483h1v1h-1zM334 483h1v1h-1zM326 491h1v1h-1zM334 491h1v1h-1zM330 481h1v1h-1zM330 493h1v1h-1zM324 487h1v1h-1zM336 487h1v1h-1zM357 481h7v1h-7zM357 491h7v1h-7zM355 483h1v7h-1zM365 483h1v7h-1zM356 482h1v1h-1zM364 482h1v1h-1zM356 490h1v1h-1zM364 490h1v1h-1zM360 480h1v1h-1zM360 492h1v1h-1zM354 486h1v1h-1zM366 486h1v1h-1zM364 487h7v1h-7zM364 497h7v1h-7zM362 489h1v7h-1zM372 489h1v7h-1zM363 488h1v1h-1zM371 488h1v1h-1zM363 496h1v1h-1zM371 496h1v1h-1zM367 486h1v1h-1zM367 498h1v1h-1zM361 492h1v1h-1zM373 492h1v1h-1zM394 485h7v1h-7zM394 495h7v1h-7zM392 487h1v7h-1zM402 487h1v7h-1zM393 486h1v1h-1zM401 486h1v1h-1zM393 494h1v1h-1zM401 494h1v1h-1zM397 484h1v1h-1zM397 496h1v1h-1zM391 490h1v1h-1zM403 490h1v1h-1zM400 486h7v1h-7zM400 496h7v1h-7zM398 488h1v7h-1zM408 488h1v7h-1zM399 487h1v1h-1zM407 487h1v1h-1zM399 495h1v1h-1zM407 495h1v1h-1zM403 485h1v1h-1zM403 497h1v1h-1zM397 491h1v1h-1zM409 491h1v1h-1zM431 484h7v1h-7zM431 494h7v1h-7zM429 486h1v7h-1zM439 486h1v7h-1zM430 485h1v1h-1zM438 485h1v1h-1zM430 493h1v1h-1zM438 493h1v1h-1zM434 483h1v1h-1zM434 495h1v1h-1zM428 489h1v1h-1zM440 489h1v1h-1zM438 481h7v1h-7zM438 491h7v1h-7zM436 483h1v7h-1zM446 483h1v7h-1zM437 482h1v1h-1zM445 482h1v1h-1zM437 490h1v1h-1zM445 490h1v1h-1zM441 480h1v1h-1zM441 492h1v1h-1zM435 486h1v1h-1zM447 486h1v1h-1zM468 486h7v1h-7zM468 496h7v1h-7zM466 488h1v7h-1zM476 488h1v7h-1zM467 487h1v1h-1zM475 487h1v1h-1zM467 495h1v1h-1zM475 495h1v1h-1zM471 485h1v1h-1zM471 497h1v1h-1zM465 491h1v1h-1zM477 491h1v1h-1zM474 486h7v1h-7zM474 496h7v1h-7zM472 488h1v7h-1zM482 488h1v7h-1zM473 487h1v1h-1zM481 487h1v1h-1zM473 495h1v1h-1zM481 495h1v1h-1zM477 485h1v1h-1zM477 497h1v1h-1zM471 491h1v1h-1zM483 491h1v1h-1zM505 485h7v1h-7zM505 495h7v1h-7zM503 487h1v7h-1zM513 487h1v7h-1zM504 486h1v1h-1zM512 486h1v1h-1zM504 494h1v1h-1zM512 494h1v1h-1zM508 484h1v1h-1zM508 496h1v1h-1zM502 490h1v1h-1zM514 490h1v1h-1zM511 485h7v1h-7zM511 495h7v1h-7zM509 487h1v7h-1zM519 487h1v7h-1zM510 486h1v1h-1zM518 486h1v1h-1zM510 494h1v1h-1zM518 494h1v1h-1zM514 484h1v1h-1zM514 496h1v1h-1zM508 490h1v1h-1zM520 490h1v1h-1zM542 486h7v1h-7zM542 496h7v1h-7zM540 488h1v7h-1zM550 488h1v7h-1zM541 487h1v1h-1zM549 487h1v1h-1zM541 495h1v1h-1zM549 495h1v1h-1zM545 485h1v1h-1zM545 497h1v1h-1zM539 491h1v1h-1zM551 491h1v1h-1zM548 482h7v1h-7zM548 492h7v1h-7zM546 484h1v7h-1zM556 484h1v7h-1zM547 483h1v1h-1zM555 483h1v1h-1zM547 491h1v1h-1zM555 491h1v1h-1zM551 481h1v1h-1zM551 493h1v1h-1zM545 487h1v1h-1zM557 487h1v1h-1zM579 486h7v1h-7zM579 496h7v1h-7zM577 488h1v7h-1zM587 488h1v7h-1zM578 487h1v1h-1zM586 487h1v1h-1zM578 495h1v1h-1zM586 495h1v1h-1zM582 485h1v1h-1zM582 497h1v1h-1zM576 491h1v1h-1zM588 491h1v1h-1zM585 482h7v1h-7zM585 492h7v1h-7zM583 484h1v7h-1zM593 484h1v7h-1zM584 483h1v1h-1zM592 483h1v1h-1zM584 491h1v1h-1zM592 491h1v1h-1zM588 481h1v1h-1zM588 493h1v1h-1zM582 487h1v1h-1zM594 487h1v1h-1zM615 482h7v1h-7zM615 492h7v1h-7zM613 484h1v7h-1zM623 484h1v7h-1zM614 483h1v1h-1zM622 483h1v1h-1zM614 491h1v1h-1zM622 491h1v1h-1zM618 481h1v1h-1zM618 493h1v1h-1zM612 487h1v1h-1zM624 487h1v1h-1zM622 450h7v1h-7zM622 460h7v1h-7zM620 452h1v7h-1zM630 452h1v7h-1zM621 451h1v1h-1zM629 451h1v1h-1zM621 459h1v1h-1zM629 459h1v1h-1zM625 449h1v1h-1zM625 461h1v1h-1zM619 455h1v1h-1zM631 455h1v1h-1zM652 486h7v1h-7zM652 496h7v1h-7zM650 488h1v7h-1zM660 488h1v7h-1zM651 487h1v1h-1zM659 487h1v1h-1zM651 495h1v1h-1zM659 495h1v1h-1zM655 485h1v1h-1zM655 497h1v1h-1zM649 491h1v1h-1zM661 491h1v1h-1zM659 485h7v1h-7zM659 495h7v1h-7zM657 487h1v7h-1zM667 487h1v7h-1zM658 486h1v1h-1zM666 486h1v1h-1zM658 494h1v1h-1zM666 494h1v1h-1zM662 484h1v1h-1zM662 496h1v1h-1zM656 490h1v1h-1zM668 490h1v1h-1zM689 472h7v1h-7zM689 482h7v1h-7zM687 474h1v7h-1zM697 474h1v7h-1zM688 473h1v1h-1zM696 473h1v1h-1zM688 481h1v1h-1zM696 481h1v1h-1zM692 471h1v1h-1zM692 483h1v1h-1zM686 477h1v1h-1zM698 477h1v1h-1zM695 483h7v1h-7zM695 493h7v1h-7zM693 485h1v7h-1zM703 485h1v7h-1zM694 484h1v1h-1zM702 484h1v1h-1zM694 492h1v1h-1zM702 492h1v1h-1zM698 482h1v1h-1zM698 494h1v1h-1zM692 488h1v1h-1zM704 488h1v1h-1zM726 482h7v1h-7zM726 492h7v1h-7zM724 484h1v7h-1zM734 484h1v7h-1zM725 483h1v1h-1zM733 483h1v1h-1zM725 491h1v1h-1zM733 491h1v1h-1zM729 481h1v1h-1zM729 493h1v1h-1zM723 487h1v1h-1zM735 487h1v1h-1zM732 485h7v1h-7zM732 495h7v1h-7zM730 487h1v7h-1zM740 487h1v7h-1zM731 486h1v1h-1zM739 486h1v1h-1zM731 494h1v1h-1zM739 494h1v1h-1zM735 484h1v1h-1zM735 496h1v1h-1zM729 490h1v1h-1zM741 490h1v1h-1zM763 482h7v1h-7zM763 492h7v1h-7zM761 484h1v7h-1zM771 484h1v7h-1zM762 483h1v1h-1zM770 483h1v1h-1zM762 491h1v1h-1zM770 491h1v1h-1zM766 481h1v1h-1zM766 493h1v1h-1zM760 487h1v1h-1zM772 487h1v1h-1zM769 482h7v1h-7zM769 492h7v1h-7zM767 484h1v7h-1zM777 484h1v7h-1zM768 483h1v1h-1zM776 483h1v1h-1zM768 491h1v1h-1zM776 491h1v1h-1zM772 481h1v1h-1zM772 493h1v1h-1zM766 487h1v1h-1zM778 487h1v1h-1zM800 487h7v1h-7zM800 497h7v1h-7zM798 489h1v7h-1zM808 489h1v7h-1zM799 488h1v1h-1zM807 488h1v1h-1zM799 496h1v1h-1zM807 496h1v1h-1zM803 486h1v1h-1zM803 498h1v1h-1zM797 492h1v1h-1zM809 492h1v1h-1zM806 482h7v1h-7zM806 492h7v1h-7zM804 484h1v7h-1zM814 484h1v7h-1zM805 483h1v1h-1zM813 483h1v1h-1zM805 491h1v1h-1zM813 491h1v1h-1zM809 481h1v1h-1zM809 493h1v1h-1zM803 487h1v1h-1zM815 487h1v1h-1zM837 483h7v1h-7zM837 493h7v1h-7zM835 485h1v7h-1zM845 485h1v7h-1zM836 484h1v1h-1zM844 484h1v1h-1zM836 492h1v1h-1zM844 492h1v1h-1zM840 482h1v1h-1zM840 494h1v1h-1zM834 488h1v1h-1zM846 488h1v1h-1zM843 483h7v1h-7zM843 493h7v1h-7zM841 485h1v7h-1zM851 485h1v7h-1zM842 484h1v1h-1zM850 484h1v1h-1zM842 492h1v1h-1zM850 492h1v1h-1zM846 482h1v1h-1zM846 494h1v1h-1zM840 488h1v1h-1zM852 488h1v1h-1zM874 483h7v1h-7zM874 493h7v1h-7zM872 485h1v7h-1zM882 485h1v7h-1zM873 484h1v1h-1zM881 484h1v1h-1zM873 492h1v1h-1zM881 492h1v1h-1zM877 482h1v1h-1zM877 494h1v1h-1zM871 488h1v1h-1zM883 488h1v1h-1zM880 487h7v1h-7zM880 497h7v1h-7zM878 489h1v7h-1zM888 489h1v7h-1zM879 488h1v1h-1zM887 488h1v1h-1zM879 496h1v1h-1zM887 496h1v1h-1zM883 486h1v1h-1zM883 498h1v1h-1zM877 492h1v1h-1zM889 492h1v1h-1zM910 489h7v1h-7zM910 499h7v1h-7zM908 491h1v7h-1zM918 491h1v7h-1zM909 490h1v1h-1zM917 490h1v1h-1zM909 498h1v1h-1zM917 498h1v1h-1zM913 488h1v1h-1zM913 500h1v1h-1zM907 494h1v1h-1zM919 494h1v1h-1zM917 471h7v1h-7zM917 481h7v1h-7zM915 473h1v7h-1zM925 473h1v7h-1zM916 472h1v1h-1zM924 472h1v1h-1zM916 480h1v1h-1zM924 480h1v1h-1zM920 470h1v1h-1zM920 482h1v1h-1zM914 476h1v1h-1zM926 476h1v1h-1zM947 484h7v1h-7zM947 494h7v1h-7zM945 486h1v7h-1zM955 486h1v7h-1zM946 485h1v1h-1zM954 485h1v1h-1zM946 493h1v1h-1zM954 493h1v1h-1zM950 483h1v1h-1zM950 495h1v1h-1zM944 489h1v1h-1zM956 489h1v1h-1zM954 482h7v1h-7zM954 492h7v1h-7zM952 484h1v7h-1zM962 484h1v7h-1zM953 483h1v1h-1zM961 483h1v1h-1zM953 491h1v1h-1zM961 491h1v1h-1zM957 481h1v1h-1zM957 493h1v1h-1zM951 487h1v1h-1zM963 487h1v1h-1z" fill="#C04000"/>
<path d="M99 514h7v11h-7zM98 515h9v9h-9zM97 516h11v7h-11zM102 513h1v13h-1zM105 514h7v11h-7zM104 515h9v9h-9zM103 516h11v7h-11zM108 513h1v13h-1zM173 514h7v11h-7zM172 515h9v9h-9zM171 516h11v7h-11zM176 513h1v13h-1zM179 514h7v11h-7zM178 515h9v9h-9zM177 516h11v7h-11zM182 513h1v13h-1zM210 514h7v11h-7zM209 515h9v9h-9zM208 516h11v7h-11zM213 513h1v13h-1zM216 514h7v11h-7zM215 515h9v9h-9zM214 516h11v7h-11zM219 513h1v13h-1zM247 514h7v11h-7zM246 515h9v9h-9zM245 516h11v7h-11zM250 513h1v13h-1zM253 514h7v11h-7zM252 515h9v9h-9zM251 516h11v7h-11zM256 513h1v13h-1zM284 514h7v11h-7zM283 515h9v9h-9zM282 516h11v7h-11zM287 513h1v13h-1zM290 514h7v11h-7zM289 515h9v9h-9zM288 516h11v7h-11zM293 513h1v13h-1zM320 514h7v11h-7zM319 515h9v9h-9zM318 516h11v7h-11zM323 513h1v13h-1zM327 514h7v11h-7zM326 515h9v9h-9zM325 516h11v7h-11zM330 513h1v13h-1zM357 514h7v11h-7zM356 515h9v9h-9zM355 516h11v7h-11zM360 513h1v13h-1zM364 514h7v11h-7zM363 515h9v9h-9zM362 516h11v7h-11zM367 513h1v13h-1zM394 514h7v11h-7zM393 515h9v9h-9zM392 516h11v7h-11zM397 513h1v13h-1zM400 514h7v11h-7zM399 515h9v9h-9zM398 516h11v7h-11zM403 513h1v13h-1zM431 514h7v11h-7zM430 515h9v9h-9zM429 516h11v7h-11zM434 513h1v13h-1zM438 514h7v11h-7zM437 515h9v9h-9zM436 516h11v7h-11zM441 513h1v13h-1zM468 514h7v11h-7zM467 515h9v9h-9zM466 516h11v7h-11zM471 513h1v13h-1zM474 514h7v11h-7zM473 515h9v9h-9zM472 516h11v7h-11zM477 513h1v13h-1zM505 514h7v11h-7zM504 515h9v9h-9zM503 516h11v7h-11zM508 513h1v13h-1zM511 514h7v11h-7zM510 515h9v9h-9zM509 516h11v7h-11zM514 513h1v13h-1zM542 514h7v11h-7zM541 515h9v9h-9zM540 516h11v7h-11zM545 513h1v13h-1zM548 514h7v11h-7zM547 515h9v9h-9zM546 516h11v7h-11zM551 513h1v13h-1zM579 514h7v11h-7zM578 515h9v9h-9zM577 516h11v7h-11zM582 513h1v13h-1zM585 514h7v11h-7zM584 515h9v9h-9zM583 516h11v7h-11zM588 513h1v13h-1zM615 514h7v11h-7zM614 515h9v9h-9zM613 516h11v7h-11zM618 513h1v13h-1zM622 514h7v11h-7zM621 515h9v9h-9zM620 516h11v7h-11zM625 513h1v13h-1zM652 514h7v11h-7zM651 515h9v9h-9zM650 516h11v7h-11zM655 513h1v13h-1zM659 514h7v11h-7zM658 515h9v9h-9zM657 516h11v7h-11zM662 513h1v13h-1zM689 514h7v11h-7zM688 515h9v9h-9zM687 516h11v7h-11zM692 513h1v13h-1zM695 514h7v11h-7zM694 515h9v9h-9zM693 516h11v7h-11zM698 513h1v13h-1zM726 514h7v11h-7zM725 515h9v9h-9zM724 516h11v7h-11zM729 513h1v13h-1zM732 514h7v11h-7zM731 515h9v9h-9zM730 516h11v7h-11zM735 513h1v13h-1zM763 514h7v11h-7zM762 515h9v9h-9zM761 516h11v7h-11zM766 513h1v13h-1zM769 514h7v11h-7zM768 515h9v9h-9zM767 516h11v7h-11zM772 513h1v13h-1zM800 514h7v11h-7zM799 515h9v9h-9zM798 516h11v7h-11zM803 513h1v13h-1zM806 514h7v11h-7zM805 515h9v9h-9zM804 516h11v7h-11zM809 513h1v13h-1zM837 514h7v11h-7zM836 515h9v9h-9zM835 516h11v7h-11zM840 513h1v13h-1zM843 514h7v11h-7zM842 515h9v9h-9zM841 516h11v7h-11zM846 513h1v13h-1zM874 514h7v11h-7zM873 515h9v9h-9zM872 516h11v7h-11zM877 513h1v13h-1zM880 514h7v11h-7zM879 515h9v9h-9zM878 516h11v7h-11zM883 513h1v13h-1zM910 514h7v11h-7zM909 515h9v9h-9zM908 516h11v7h-11zM913 513h1v13h-1zM917 514h7v11h-7zM916 515h9v9h-9zM915 516h11v7h-11zM920 513h1v13h-1zM947 514h7v11h-7zM946 515h9v9h-9zM945 516h11v7h-11zM950 513h1v13h-1zM954 514h7v11h-7zM953 515h9v9h-9zM952 516h11v7h-11zM957 513h1v13h-1z" fill="#C8C800"/>
<path d="M175.5 442.5 L167.5 454.5 L183.5 454.5 Z" fill="none" stroke="#4169E1" stroke-width="1"/>
<rect x="169" y="411" width="13" height="1" fill="#FFC020"/>
<rect x="175" y="405" width="1" height="13" fill="#FFC020"/>
<rect x="179" y="409" width="13" height="1" fill="#FFC020"/>
<rect x="185" y="403" width="1" height="13" fill="#FFC020"/>
<rect x="178" y="411" width="13" height="1" fill="#FFC020"/>
<rect x="184" y="405" width="1" height="13" fill="#FFC020"/>
<rect x="323" y="411" width="13" height="1" fill="#FFC020"/>
<rect x="329" y="405" width="1" height="13" fill="#FFC020"/>
<rect x="101" y="77" width="886" height="1" fill="#000"/>
<rect x="101" y="519" width="886" height="1" fill="#000"/>
<rect x="101" y="77" width="1" height="443" fill="#000"/>
<rect x="986" y="77" width="1" height="443" fill="#000"/>
<rect x="908" y="92" width="57" height="1" fill="#FF0000"/>
<rect x="908" y="111" width="57" height="1" fill="#00C000"/>
<rect x="930.5" y="124.5" width="12" height="12" fill="none" stroke="#C000FF" stroke-width="1"/>
<rect x="930" y="143" width="13" height="13" fill="#00EEEE"/>
<path d="M933 163h7v1h-7zM933 173h7v1h-7zM931 165h1v7h-1zM941 165h1v7h-1zM932 164h1v1h-1zM940 164h1v1h-1zM932 172h1v1h-1zM940 172h1v1h-1zM936 162h1v1h-1zM936 174h1v1h-1zM930 168h1v1h-1zM942 168h1v1h-1z" fill="#C04000"/>
<path d="M933 182h7v11h-7zM932 183h9v9h-9zM931 184h11v7h-11zM936 181h1v13h-1z" fill="#C8C800"/>
<path d="M936.5 198.5 L928.5 210.5 L944.5 210.5 Z" fill="none" stroke="#4169E1" stroke-width="1"/>
<rect x="930" y="225" width="13" height="1" fill="#FFC020"/>
<rect x="936" y="219" width="1" height="13" fill="#FFC020"/>
</g>
<text x="683.0" y="96.0" textLength="211.6" lengthAdjust="spacing" xml:space="preserve">&quot;Ypingresult.txt&quot; using 1:2</text>
<text x="664.0" y="115.05" textLength="230.7" lengthAdjust="spacing" xml:space="preserve">&quot;YTimetcpping.txt&quot; using 1:2</text>
<text x="669.7" y="134.1" textLength="225.6" lengthAdjust="spacing" xml:space="preserve">&quot;Yofflineresult.txt&quot; using 1:2</text>
<text x="657.3" y="153.15" textLength="237.3" lengthAdjust="spacing" xml:space="preserve">&quot;Ytcpoff_record.txt&quot; using 1:2</text>
<text x="642.3" y="172.2" textLength="252.4" lengthAdjust="spacing" xml:space="preserve">&quot;Ygooglecurltime.txt&quot; using 1:2</text>
<text x="613.3" y="191.25" textLength="282.1" lengthAdjust="spacing" xml:space="preserve">&quot;Ygooglecurldnstime.txt&quot; using 1:2</text>
<text x="628.3" y="210.3" textLength="266.6" lengthAdjust="spacing" xml:space="preserve">&quot;YCustPingTimeout.txt&quot; using 1:2</text>
<text x="660.7" y="229.35" textLength="234.6" lengthAdjust="spacing" xml:space="preserve">&quot;YHPpingresult.txt&quot; using 1:2</text>
</svg></body></html>
